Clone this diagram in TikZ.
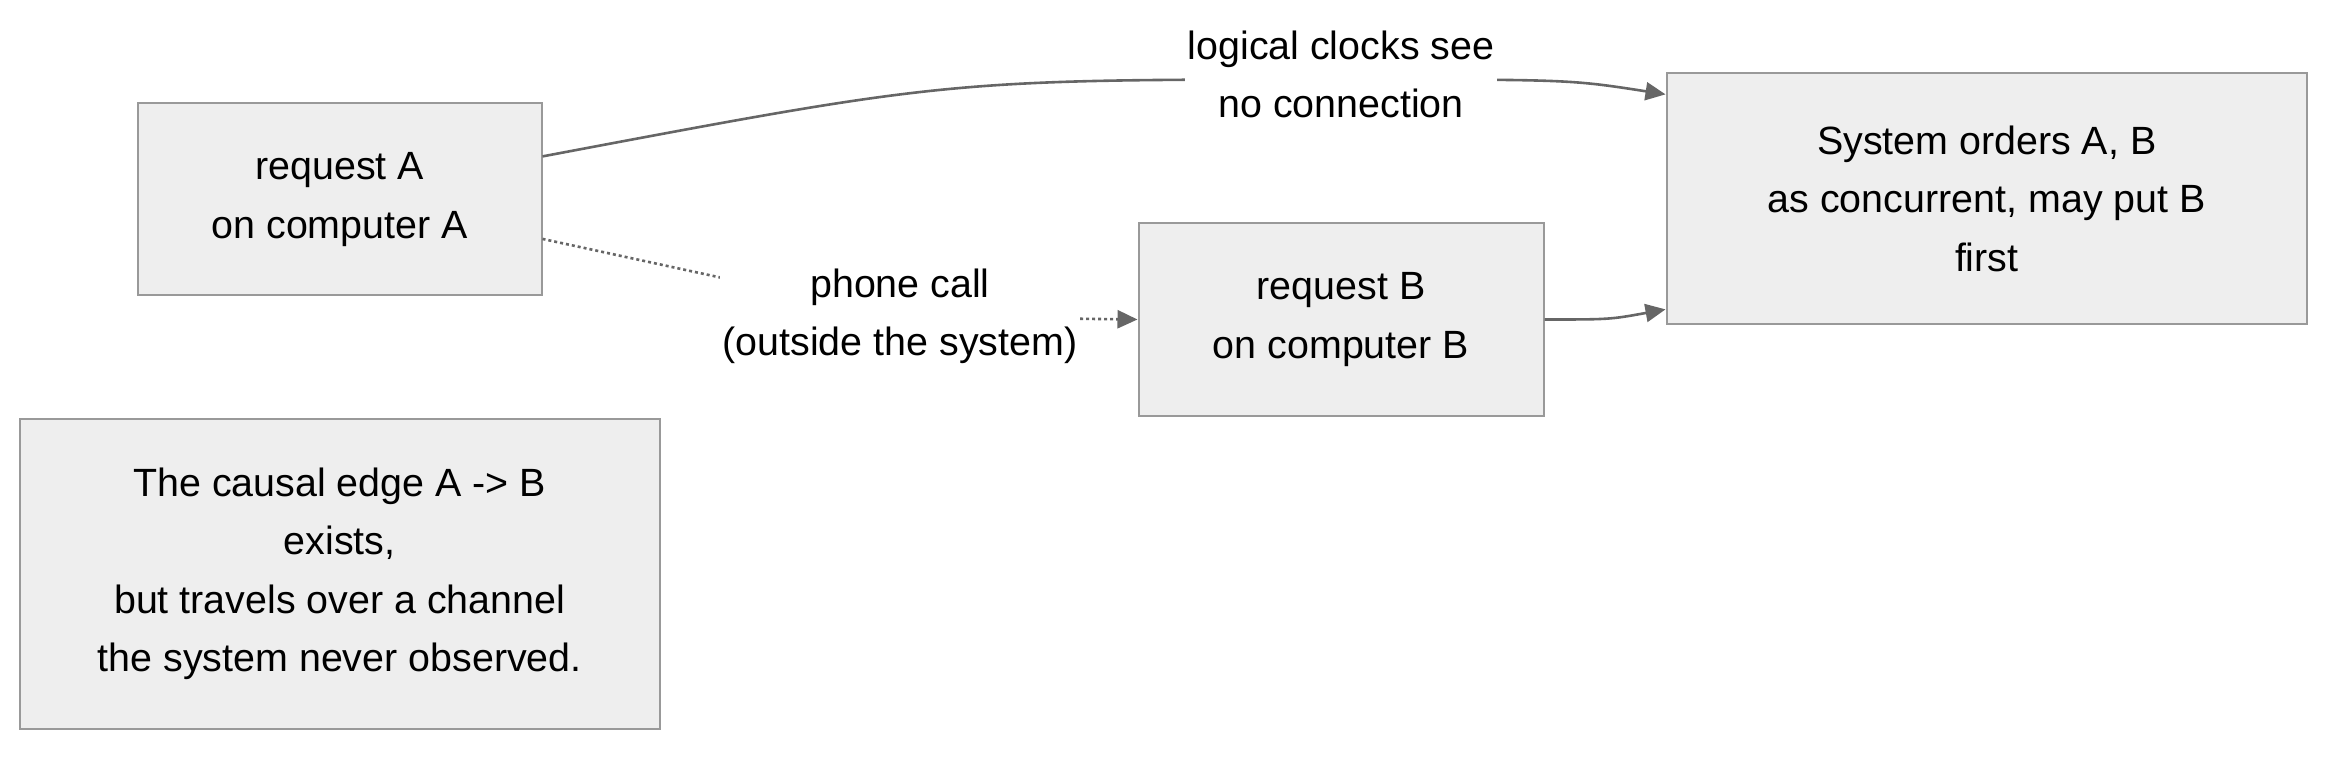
\documentclass[tikz,border=0pt]{standalone}
\usepackage{fontspec}
\setmainfont{Liberation Sans}
\usepackage{xcolor}
\usetikzlibrary{arrows.meta,positioning}

\definecolor{boxfill}{HTML}{EEEEEE}
\definecolor{boxline}{HTML}{999999}
\definecolor{edgeline}{HTML}{666666}

\begin{document}
\begin{tikzpicture}[
    x=0.5pt, y=-0.5pt,
    box/.style={rectangle, draw=boxline, fill=boxfill, line width=1pt, align=center, inner sep=0pt, font=\fontsize{19.7}{29.25}\selectfont},
    lbl/.style={fill=white, align=center, inner sep=1.5pt, font=\fontsize{19.7}{29.25}\selectfont},
    arrow/.style={draw=edgeline, line width=1.3pt, -{Triangle[length=10pt, width=9pt]}, edgeline},
    call/.style={arrow, dash pattern=on 1.5pt off 1.5pt}
]
    \useasboundingbox (0,0) rectangle (2352,759);

    \node[box, minimum width=201.75pt, minimum height=96pt] (reqA) at (339.75,199.5) {request A\\on computer A};
    \node[box, minimum width=202.5pt, minimum height=96pt] (reqB) at (1341,319.5) {request B\\on computer B};
    \node[box, minimum width=320.25pt, minimum height=125.25pt] (order) at (1986.75,198.75) {System orders A, B\\as concurrent, may put B\\first};
    \node[box, minimum width=320.25pt, minimum height=155.25pt] (note) at (339.75,573.75) {The causal edge A -> B\\exists,\\but travels over a channel\\the system never observed.};

    \coordinate (clk) at (1341,79.5);
    \coordinate (ph) at (900,316.5);

    \draw[arrow] (reqA.12.6) .. controls (950,79.5) .. (clk) .. controls (1570,79.5) .. (order.162.7);
    \draw[call] (reqA.-11.8) -- (ph) -- (reqB.west);
    \draw[arrow] (reqB.east) .. controls (1610,319.5) .. (order.-161.5);

    \node[lbl] (clklbl) at (1341,74.25) {logical clocks see\\no connection};
    \node[lbl] (phlbl) at (ph) {phone call\\(outside the system)};
\end{tikzpicture}
\end{document}
